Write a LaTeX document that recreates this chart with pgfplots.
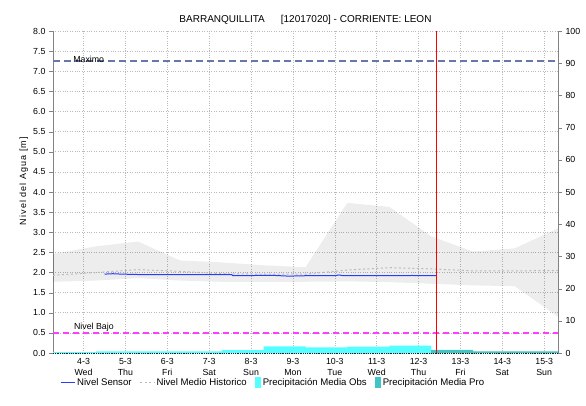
\documentclass[border=0pt]{standalone}
\usepackage{pgfplots}
\pgfplotsset{compat=1.18}
\usepackage{pgfplotstable}
\usepackage{fontspec}
\setmainfont{Liberation Sans}
\setsansfont{Liberation Sans}
\newfontfamily\spacedfont[LetterSpace=12]{Liberation Sans}

\definecolor{maxc}{RGB}{102,119,170}
\definecolor{bajoc}{RGB}{255,60,255}
\definecolor{sensorc}{RGB}{40,60,255}
\definecolor{medc}{RGB}{185,185,185}
\definecolor{obsc}{RGB}{85,255,255}
\definecolor{proc}{RGB}{64,196,196}
\definecolor{gridc}{RGB}{185,185,185}
\definecolor{axc}{RGB}{130,130,130}

% historical range: upper edge forward, lower edge backward (m)
\pgfplotstableread{
x     y
3.27  2.46
4.30  2.65
5.30  2.77
6.30  2.30
7.30  2.25
8.30  2.18
9.30  2.13
10.30 3.73
11.30 3.63
12.30 2.90
13.30 2.52
14.30 2.60
15.33 3.10
15.33 0.90
14.30 1.66
13.30 1.68
12.30 1.72
11.30 1.76
10.30 1.78
9.30  1.77
8.30  1.77
7.30  1.77
6.30  1.80
5.30  1.86
4.30  1.80
3.27  1.77
}\bandtable

% historical median (m)
\pgfplotstableread{
x     y
3.27  1.93
4.30  2.00
5.30  2.07
6.30  2.03
7.30  1.97
8.30  1.96
9.30  1.96
10.30 2.06
11.30 2.12
12.30 2.09
13.30 2.04
14.30 2.04
15.33 2.05
}\medtable

% sensor level (m)
\pgfplotstableread{
x     y
4.50  1.96
4.70  1.97
4.90  1.96
5.30  1.95
7.54  1.95
7.56  1.92
8.50  1.93
8.90  1.91
9.30  1.92
10.00 1.92
10.10 1.94
10.20 1.92
11.80 1.92
11.85 1.93
11.90 1.92
12.42 1.92
}\sensortable

% observed precipitation (mm), daily steps
\pgfplotstableread{
x     y
3.27  0.30
4.30  0.50
5.30  0.50
6.30  0.50
7.30  0.90
8.30  2.05
9.30  1.74
10.30 1.96
11.30 2.27
12.30 2.27
}\obstable

% forecast precipitation (mm)
\pgfplotstableread{
x     y
12.30 1.00
13.30 0.50
14.30 0.50
15.33 0.50
}\protable

\begin{document}
\begin{tikzpicture}
\path[use as bounding box] (0pt,0pt) rectangle (586pt,405pt);

\begin{axis}[
  at={(53pt,52pt)}, anchor=south west,
  scale only axis, width=505pt, height=322pt,
  xmin=3.27, xmax=15.33, ymin=0, ymax=8,
  axis x line*=bottom, axis y line*=left,
  x axis line style={black, densely dotted, line width=0.8pt, -},
  y axis line style={axc, -},
  xtick={4,...,15},
  xticklabels={{4-3\\Wed},{5-3\\Thu},{6-3\\Fri},{7-3\\Sat},{8-3\\Sun},{9-3\\Mon},{10-3\\Tue},{11-3\\Wed},{12-3\\Thu},{13-3\\Fri},{14-3\\Sat},{15-3\\Sun}},
  xticklabel style={align=center, font=\fontsize{8.8}{11.5}\selectfont, inner sep=1pt},
  major x tick style={draw=none},
  ytick={0,0.5,1,1.5,2,2.5,3,3.5,4,4.5,5,5.5,6,6.5,7,7.5,8},
  yticklabel style={/pgf/number format/.cd, fixed, fixed zerofill, precision=1, assume math mode=true, /tikz/.cd, font=\fontsize{8.8}{10}\selectfont},
  major y tick style={axc},
  tick align=outside, major tick length=4pt,
  grid=major, grid style={dotted, gridc, line width=0.6pt},
  ylabel={Nivel del Agua [m]},
  ylabel style={at={(axis description cs:-0.058,0.534)}, anchor=center, font=\spacedfont\fontsize{9}{10}\selectfont},
  title={BARRANQUILLITA\hspace{1.6em}[12017020] - CORRIENTE: LEON},
  title style={at={(axis description cs:0.5,1)}, anchor=south, yshift=-3pt, font=\fontsize{10}{12}\selectfont},
]
\addplot[fill=black, fill opacity=0.07, draw=none, forget plot] table[x=x, y=y] {\bandtable} -- cycle;
\addplot[medc, line width=1pt, dash pattern=on 2pt off 2.5pt, forget plot] table[x=x, y=y] {\medtable};
\addplot[sensorc, line width=1pt, forget plot] table[x=x, y=y] {\sensortable};
\addplot[maxc, line width=1.5pt, dash pattern=on 7pt off 4pt, forget plot] coordinates {(3.27,7.25) (15.33,7.25)};
\addplot[bajoc, line width=1.3pt, dash pattern=on 6pt off 4pt, forget plot] coordinates {(3.27,0.5) (15.33,0.5)};
\node[anchor=south west, inner sep=0pt, font=\fontsize{8.8}{10}\selectfont] at (axis cs:3.75,7.22) {Maximo};
\node[anchor=south west, inner sep=0pt, font=\fontsize{8.8}{10}\selectfont] at (axis cs:3.77,0.53) {Nivel Bajo};
\end{axis}

\begin{axis}[
  at={(53pt,52pt)}, anchor=south west,
  scale only axis, width=505pt, height=322pt,
  xmin=3.27, xmax=15.33, ymin=0, ymax=100,
  axis x line=none, axis y line*=right,
  y axis line style={axc, -},
  ytick={0,10,...,100},
  yticklabel style={/pgf/number format/assume math mode=true, font=\fontsize{8.8}{10}\selectfont},
  major y tick style={axc},
  tick align=outside, major tick length=4pt,
  legend columns=4,
  legend style={at={(axis description cs:0.436,-0.093)}, anchor=center, draw=none, fill=none,
    font=\fontsize{9.6}{11}\selectfont,
    /tikz/every even column/.append style={column sep=6pt}},
  legend cell align=left,
]
\addlegendimage{legend image code/.code={\draw[sensorc, line width=1pt] (0pt,0pt) -- (14pt,0pt);}}
\addlegendentry{Nivel Sensor}
\addlegendimage{legend image code/.code={\draw[medc, line width=1pt, dash pattern=on 2pt off 2.5pt] (0pt,0pt) -- (14pt,0pt);}}
\addlegendentry{Nivel Medio Historico}
\addplot[const plot mark left, fill=obsc, draw=none,
  legend image code/.code={\fill[obsc] (0pt,-5pt) rectangle (6pt,6pt);}] table[x=x, y=y] {\obstable} \closedcycle;
\addlegendentry{Precipitación Media Obs}
\addplot[const plot mark left, fill=proc, draw=none,
  legend image code/.code={\fill[proc] (0pt,-5pt) rectangle (6pt,6pt);}] table[x=x, y=y] {\protable} \closedcycle;
\addlegendentry{Precipitación Media Pro}
\addplot[red, line width=0.9pt, forget plot] coordinates {(12.42,0) (12.42,100)};
\end{axis}
\end{tikzpicture}
\end{document}
